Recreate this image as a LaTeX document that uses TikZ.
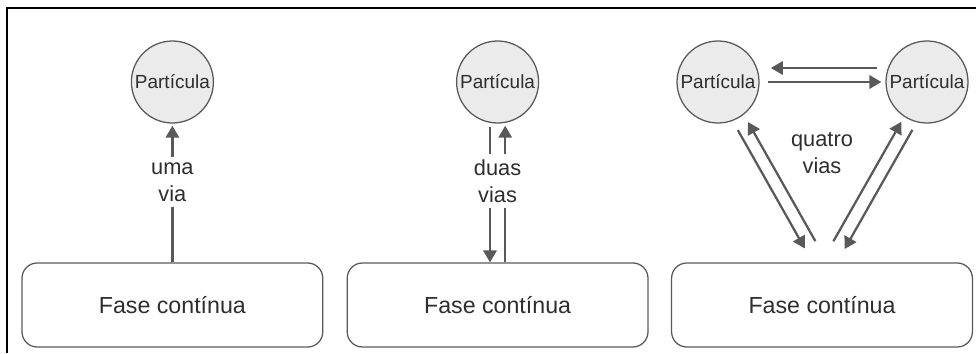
\documentclass[tikz,border=0pt]{standalone}
\usepackage{fontspec}
\setmainfont{Liberation Sans}
\usetikzlibrary{arrows.meta,calc}

\definecolor{linegray}{HTML}{595959}
\definecolor{fillgray}{HTML}{EBEBEB}
\definecolor{textgray}{HTML}{2E2E2E}

\begin{document}
\begin{tikzpicture}[
    particle/.style={circle, draw=linegray, line width=0.9pt, fill=fillgray, minimum size=2.05cm, inner sep=0pt, font=\fontsize{13.5}{15}\selectfont, text=textgray},
    phase/.style={draw=linegray, line width=0.9pt, rounded corners=0.38cm, minimum width=7.52cm, minimum height=2.1cm, font=\fontsize{16.5}{19}\selectfont, text=textgray},
    route/.style={draw=linegray, line width=1.6pt, -{Triangle[length=8.5pt,width=9.5pt]}},
    waylabel/.style={fill=white, align=center, inner xsep=2pt, inner ysep=4pt, font=\fontsize{15.5}{19}\selectfont, text=textgray}
]
    \useasboundingbox (0,0) rectangle (24.4,8.825);
    % outer frame (left and top edges)
    \draw[line width=1.4pt] (0.175,0) -- (0.175,8.625) -- (24.4,8.625);

    % continuous phase
    \node[phase] (f1) at (4.31,1.2) {Fase contínua};
    \node[phase] (f2) at (12.44,1.2) {Fase contínua};
    \node[phase] (f3) at (20.55,1.2) {Fase contínua};

    % particles
    \node[particle] (p1) at (4.31,6.775) {Partícula};
    \node[particle] (p2) at (12.44,6.775) {Partícula};
    \node[particle] (pl) at (17.95,6.775) {Partícula};
    \node[particle] (pr) at (23.175,6.775) {Partícula};

    % one way
    \draw[route, shorten >=1.5pt] (f1.north) -- (p1.south) node[waylabel, pos=0.58] (l1) {uma\\via};

    % two ways
    \draw[route, shorten <=2.5pt] ([xshift=-0.19cm]p2.south) -- ([xshift=-0.19cm]f2.north);
    \draw[route, shorten >=1.5pt] ([xshift=0.19cm]f2.north) -- ([xshift=0.19cm]p2.south);
    \node[waylabel] (l2) at (12.44,4.29) {duas\\vias};

    % four ways
    \draw[route] ([shift={(-0.2cm,0.35cm)}]pr.west) -- ([shift={(0.28cm,0.35cm)}]pl.east);
    \draw[route] ([xshift=0.22cm]pl.east) -- ([xshift=-0.1cm]pr.west);

    \coordinate (fl) at ([xshift=-0.05cm]f3.north);
    \coordinate (fr) at ([xshift=0.18cm]f3.north);
    \coordinate (pra) at ([xshift=0.12cm]pr.center);

    \draw[route, shorten <=1.29cm, shorten >=0.49cm] ($(pl)!0.16cm!-90:(fl)$) -- ($(fl)!0.16cm!90:(pl)$);
    \draw[route, shorten <=0.52cm, shorten >=1.24cm] ($(fl)!0.16cm!-90:(pl)$) -- ($(pl)!0.16cm!90:(fl)$);
    \draw[route, shorten <=1.28cm, shorten >=0.48cm] ($(pra)!0.17cm!90:(fr)$) -- ($(fr)!0.17cm!-90:(pra)$);
    \draw[route, shorten <=0.51cm, shorten >=1.24cm] ($(fr)!0.17cm!90:(pra)$) -- ($(pra)!0.17cm!-90:(fr)$);

    \node[waylabel] (l3) at (20.55,4.99) {quatro\\vias};
\end{tikzpicture}
\end{document}
